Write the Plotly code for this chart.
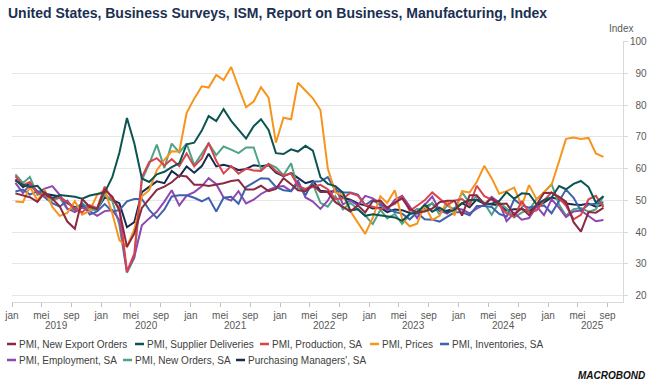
import pandas as pd
import plotly.graph_objects as go

# ---------------- data (monthly, Jan 2019 - Aug 2025) ----------------
months = pd.date_range("2019-01-01", periods=80, freq="MS") + pd.Timedelta(days=14)

new_export_orders = [52.2, 51.5, 51.0, 49.5, 52.5, 50.5, 48.1, 43.3, 41.0, 50.4, 47.9, 47.3,
                     53.3, 51.2, 46.8, 35.3, 39.5, 47.6, 50.3, 53.3, 54.3, 55.7, 57.8, 57.5,
                     54.9, 54.9, 54.5, 54.9, 55.4, 56.1, 56.4, 53.4, 53.4, 54.6, 52.9, 53.6,
                     57.0, 55.1, 53.2, 52.9, 54.8, 52.6, 52.6, 49.4, 47.8, 46.5, 48.4, 46.2,
                     49.7, 49.9, 47.6, 49.3, 50.6, 47.3, 46.2, 46.5, 47.4, 49.4, 49.9, 49.9,
                     45.2, 51.6, 51.6, 48.7, 50.6, 48.8, 49.0, 45.4, 47.6, 45.3, 48.7, 52.3,
                     52.4, 51.1, 49.6, 43.1, 40.1, 46.3, 46.1, 47.6]

supplier_deliveries = [56.2, 54.9, 54.2, 54.6, 52.0, 50.7, 51.7, 51.4, 51.1, 50.5, 51.5, 52.0,
                       52.5, 57.3, 65.0, 76.0, 68.0, 56.9, 55.8, 58.2, 59.0, 60.5, 61.7, 67.7,
                       68.2, 72.0, 76.6, 75.0, 78.8, 75.1, 72.5, 69.5, 73.4, 75.6, 72.2, 64.9,
                       64.6, 66.1, 65.4, 67.2, 65.7, 57.3, 55.2, 54.5, 52.4, 46.8, 47.2, 45.1,
                       45.6, 45.2, 44.8, 44.6, 43.5, 45.7, 46.1, 48.6, 46.4, 47.7, 46.2, 47.0,
                       49.1, 50.1, 50.1, 48.9, 48.9, 49.8, 52.6, 50.5, 52.2, 52.0, 48.7, 50.1,
                       50.9, 54.5, 53.5, 55.2, 56.1, 54.2, 49.3, 51.3]

production = [57.6, 54.8, 55.8, 52.3, 51.3, 50.8, 50.8, 49.5, 47.3, 46.2, 48.5, 47.5,
              54.3, 50.3, 47.7, 27.5, 33.2, 57.3, 62.1, 63.3, 61.0, 63.0, 60.8, 64.8,
              60.7, 63.2, 68.1, 62.5, 58.5, 60.8, 58.4, 60.0, 59.4, 59.3, 61.5, 59.2,
              57.8, 58.5, 54.5, 53.6, 54.2, 54.9, 53.5, 50.4, 50.6, 52.3, 51.5, 48.5,
              48.0, 47.3, 47.8, 48.9, 51.1, 46.7, 48.3, 50.0, 52.5, 50.4, 48.5, 49.9,
              50.4, 48.4, 54.6, 51.3, 50.2, 48.5, 45.9, 44.8, 49.8, 46.2, 46.8, 49.9,
              52.5, 50.7, 48.3, 44.0, 45.4, 50.3, 51.4, 47.8]

prices = [49.6, 49.4, 54.3, 50.0, 53.2, 47.9, 45.1, 46.0, 49.7, 45.5, 46.7, 51.7,
          53.3, 45.9, 37.4, 35.3, 40.8, 51.3, 53.2, 59.5, 62.8, 65.5, 65.4, 77.6,
          82.1, 86.0, 85.6, 89.6, 88.0, 92.1, 85.7, 79.4, 81.2, 85.7, 82.4, 68.2,
          76.1, 75.6, 87.1, 84.6, 82.2, 78.5, 60.0, 52.5, 51.7, 46.6, 43.0, 39.4,
          44.5, 51.3, 49.2, 53.2, 44.2, 41.8, 42.6, 48.4, 43.8, 45.1, 49.9, 45.2,
          52.9, 52.5, 55.8, 60.9, 57.0, 52.1, 52.9, 54.0, 48.3, 54.8, 50.3, 52.5,
          54.9, 62.4, 69.4, 69.8, 69.4, 69.7, 64.8, 63.7]

inventories = [52.8, 53.4, 51.8, 52.9, 50.9, 49.1, 48.0, 49.9, 46.9, 48.9, 45.5, 46.5,
               48.8, 46.5, 46.9, 49.7, 50.4, 50.4, 47.0, 44.4, 47.1, 51.2, 51.6, 51.6,
               50.8, 49.7, 50.8, 46.5, 50.8, 51.1, 48.9, 54.2, 55.6, 57.0, 56.8, 54.2,
               53.2, 52.9, 55.5, 51.6, 55.9, 56.0, 57.3, 53.1, 52.5, 52.5, 51.8, 48.5,
               50.1, 48.5, 47.5, 46.3, 45.8, 44.0, 46.1, 44.0, 43.9, 43.3, 44.8, 46.2,
               46.2, 45.3, 48.2, 48.2, 47.9, 45.7, 44.8, 50.3, 48.4, 47.7, 48.1, 48.4,
               45.9, 49.9, 53.4, 50.8, 46.7, 48.7, 48.9, 49.4]

employment = [55.5, 52.3, 55.0, 52.4, 53.7, 54.5, 51.7, 47.4, 46.3, 47.7, 46.6, 45.1,
              46.6, 46.9, 43.8, 27.5, 32.1, 42.1, 44.3, 46.4, 49.6, 53.2, 48.4, 51.5,
              52.6, 54.4, 57.0, 55.1, 50.9, 49.9, 52.9, 49.0, 50.2, 52.0, 53.3, 54.2,
              54.5, 52.9, 56.3, 50.9, 49.6, 47.3, 49.9, 54.2, 48.7, 50.0, 48.4, 51.4,
              50.6, 49.1, 46.9, 50.2, 51.4, 48.1, 44.4, 48.5, 51.2, 46.8, 45.8, 47.5,
              47.1, 45.9, 47.4, 48.6, 51.1, 49.3, 43.4, 46.0, 43.9, 44.4, 48.1, 45.3,
              50.3, 47.6, 44.7, 46.5, 46.8, 45.0, 43.4, 43.8]

new_orders = [58.2, 55.5, 57.4, 51.7, 52.7, 50.0, 50.8, 47.2, 47.3, 49.1, 47.2, 46.8,
              52.0, 49.8, 42.2, 27.1, 31.8, 56.4, 61.5, 67.6, 60.2, 67.9, 65.1, 67.9,
              61.1, 64.8, 68.0, 64.3, 67.0, 66.0, 64.9, 66.7, 66.7, 59.8, 61.5, 60.4,
              57.9, 61.7, 53.8, 53.5, 55.1, 49.2, 48.0, 51.3, 47.1, 49.2, 47.2, 45.2,
              42.5, 47.0, 44.3, 45.7, 42.6, 45.6, 47.3, 46.8, 49.2, 45.5, 48.3, 47.1,
              52.5, 49.2, 51.4, 49.1, 45.4, 49.3, 47.4, 44.6, 46.1, 47.1, 50.4, 52.5,
              55.1, 48.6, 45.2, 47.2, 47.6, 46.4, 47.1, 51.4]

pmi = [56.6, 54.2, 55.3, 52.8, 52.1, 51.7, 51.2, 49.1, 47.8, 48.3, 48.1, 47.2,
       50.9, 50.1, 49.1, 41.5, 43.1, 52.6, 54.2, 56.0, 55.4, 59.3, 57.5, 60.7,
       58.7, 60.8, 64.7, 60.7, 61.2, 60.6, 59.5, 59.9, 61.1, 60.8, 61.1, 58.7,
       57.6, 58.6, 57.1, 55.4, 56.1, 53.0, 52.8, 52.8, 50.9, 50.2, 49.0, 48.4,
       47.4, 47.7, 46.3, 47.1, 46.9, 46.0, 46.4, 47.6, 49.0, 46.7, 46.7, 47.4,
       49.1, 47.8, 50.3, 49.2, 48.7, 48.5, 46.8, 47.2, 47.2, 46.5, 48.4, 49.3,
       50.9, 50.3, 49.0, 48.7, 48.5, 49.0, 48.0, 48.7]

series_names = ["PMI, New Export Orders", "PMI, Supplier Deliveries", "PMI, Production, SA",
                "PMI, Prices", "PMI, Inventories, SA", "PMI, Employment, SA",
                "PMI, New Orders, SA", "Purchasing Managers', SA"]
series_values = [new_export_orders, supplier_deliveries, production, prices,
                 inventories, employment, new_orders, pmi]
series_colors = ["#8B2942", "#0C5351", "#D8434E", "#F7941D",
                 "#3F62AE", "#8E47B0", "#4FA387", "#162B4E"]

tick_dates = pd.date_range("2019-01-01", "2025-09-01", freq="4MS")
month_abbr = {1: "jan", 5: "mei", 9: "sep"}
tick_labels = [month_abbr[d.month] for d in tick_dates]
years = [2019, 2020, 2021, 2022, 2023, 2024, 2025]
y_ticks = [20, 30, 40, 50, 60, 70, 80, 90, 100]

FONT = "Liberation Sans, Arial, Helvetica, sans-serif"
TXT = "#595959"

fig = go.Figure()
for name, vals, col in reversed(list(zip(series_names, series_values, series_colors))):
    fig.add_trace(go.Scatter(x=months, y=vals, name=name, mode="lines",
                             line=dict(color=col, width=2), showlegend=False,
                             hoverinfo="x+y+name"))

# geometry helpers (pixels -> paper)
L, R, T, B = 12, 29, 41, 86
W, H = 652, 388
PW, PH = W - L - R, H - T - B
def px(x):
    return (x - L) / PW
def py(y):
    return (H - B - y) / PH

annotations = []
shapes = []
# year labels
for yr in years:
    annotations.append(dict(x=f"{yr}-07-02", xref="x", y=py(326), yref="paper",
                            text=str(yr), showarrow=False, xanchor="center", yanchor="middle",
                            font=dict(size=10, color=TXT, family=FONT)))
# Index label
annotations.append(dict(x=px(621), xref="paper", y=py(28), yref="paper", text="Index",
                        showarrow=False, xanchor="center", yanchor="middle",
                        font=dict(size=10, color=TXT, family=FONT)))
# Macrobond mark
annotations.append(dict(x=px(647), xref="paper", y=py(375), yref="paper", text="<b><i>MACROBOND</i></b>",
                        showarrow=False, xanchor="right", yanchor="middle",
                        font=dict(size=10, color="#111111", family=FONT)))

# manual legend
legend_pos = [(7, 344), (135, 344), (260, 344), (370, 344), (440, 344),
              (7, 360), (123, 360), (236, 360)]
for (lx, ly), name, col in zip(legend_pos, series_names, series_colors):
    shapes.append(dict(type="line", xref="paper", yref="paper",
                       x0=px(lx), x1=px(lx + 9), y0=py(ly), y1=py(ly),
                       line=dict(color=col, width=2.5)))
    annotations.append(dict(x=px(lx + 10), xref="paper", y=py(ly), yref="paper", text=name,
                            showarrow=False, xanchor="left", yanchor="middle",
                            font=dict(size=10, color="#404040", family=FONT)))

FS = "\u2007"
fig.update_layout(
    width=W, height=H,
    margin=dict(l=L, r=R, t=T, b=B, autoexpand=False),
    paper_bgcolor="white", plot_bgcolor="white",
    showlegend=False,
    font=dict(family=FONT, size=10, color=TXT),
    title=dict(text="<b>United States, Business Surveys, ISM, Report on Business, Manufacturing, Index</b>",
               x=8 / W, xref="container", xanchor="left",
               y=1 - 13 / H, yref="container", yanchor="middle",
               font=dict(size=14, color="#1B2F52", family=FONT)),
    xaxis=dict(type="date", range=["2019-01-01", "2025-11-03"], automargin=False,
               tickmode="array", tickvals=tick_dates, ticktext=tick_labels,
               ticks="outside", ticklen=4, tickwidth=1, tickcolor="#bfbfbf",
               showgrid=False, showline=True, linecolor="#d9d9d9", linewidth=1,
               tickfont=dict(size=10, color=TXT, family=FONT), zeroline=False),
    yaxis=dict(side="right", range=[17.9, 100.3], automargin=False,
               tickmode="array", tickvals=y_ticks,
               ticktext=[(str(v) if v >= 100 else FS + str(v)) for v in y_ticks],
               ticks="outside", ticklen=4, tickwidth=1, tickcolor="#d9d9d9",
               showgrid=True, gridcolor="#e6e6e6", gridwidth=1.3,
               showline=True, linecolor="#d9d9d9", linewidth=1, zeroline=False,
               tickfont=dict(size=10, color=TXT, family=FONT)),
    annotations=annotations,
    shapes=shapes,
)

fig.write_html("out.html", config={"displayModeBar": False},
               post_script="document.body.style.margin='0px';document.body.style.overflow='hidden';")
